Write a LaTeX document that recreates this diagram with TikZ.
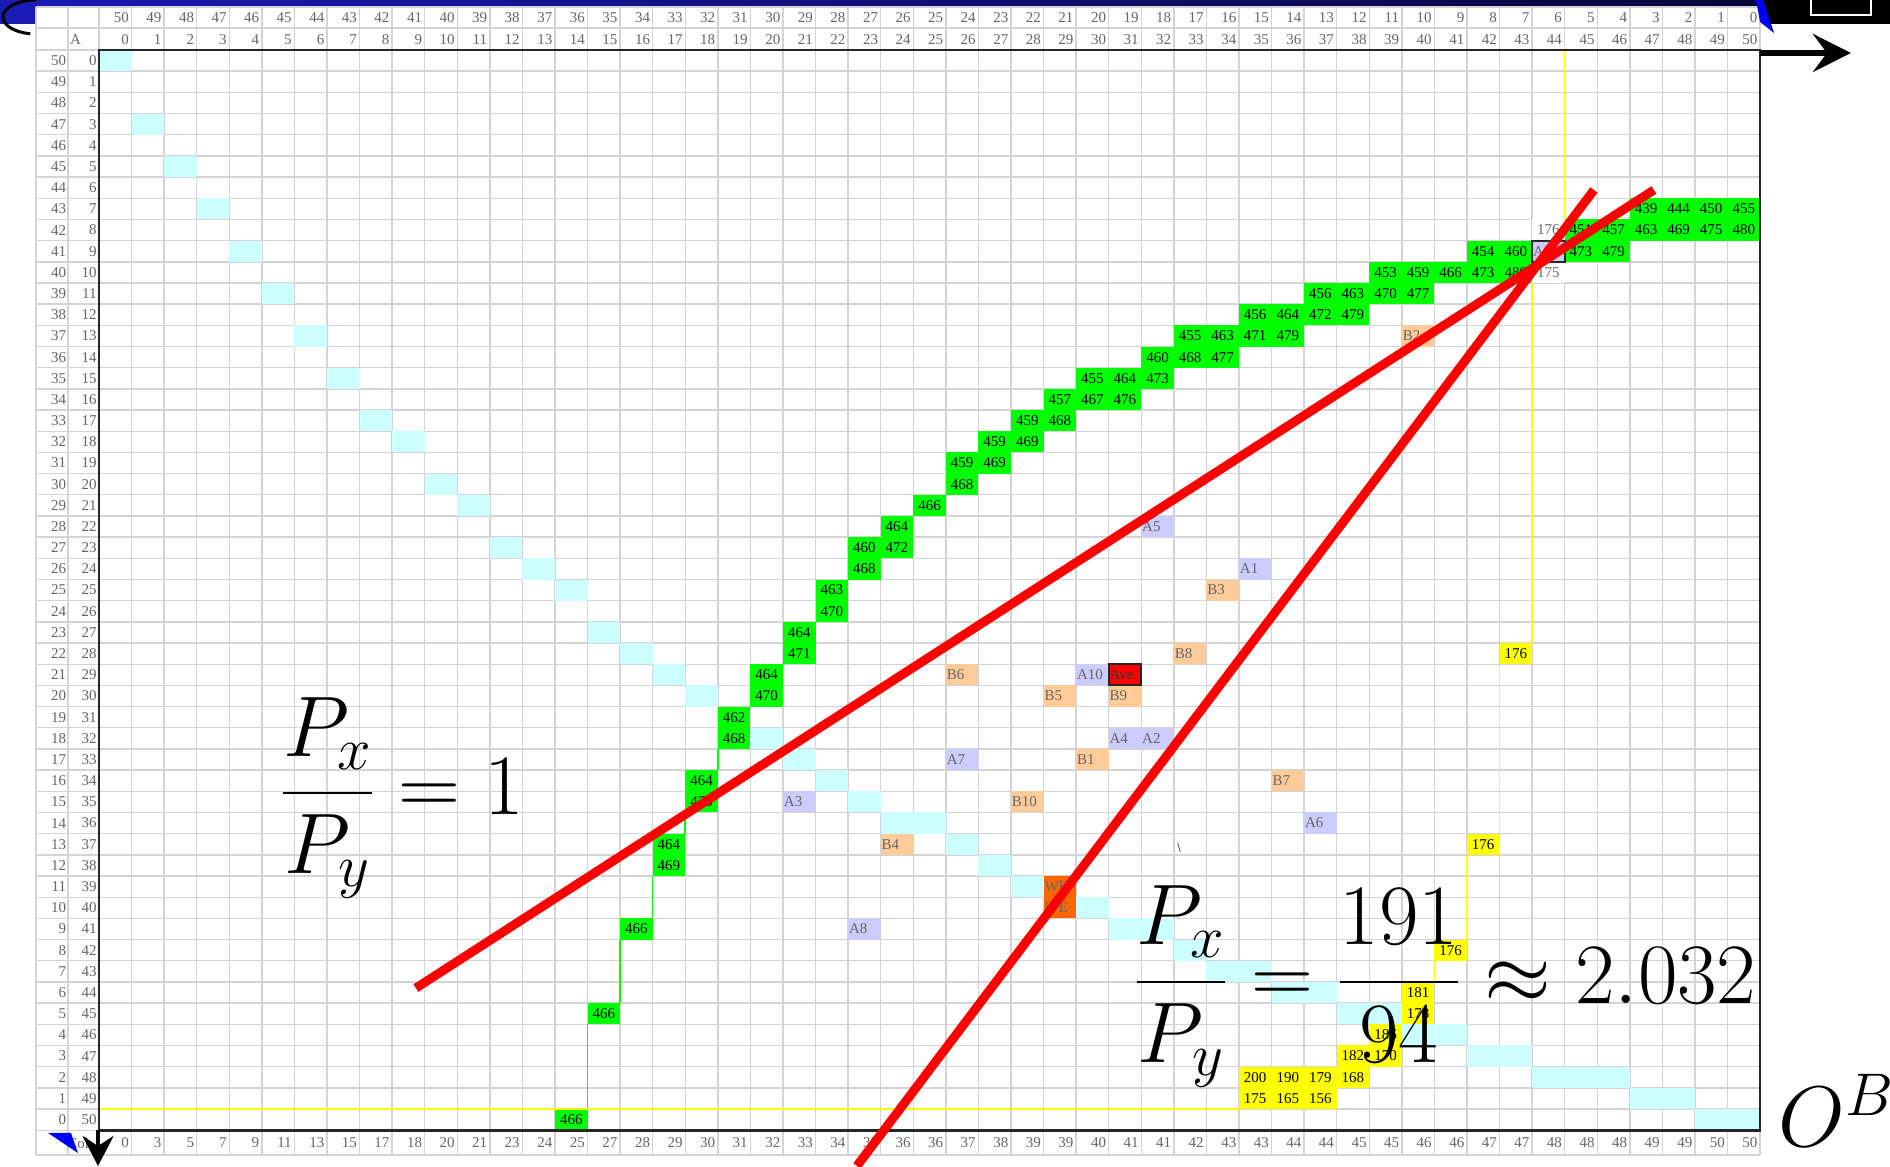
\RequirePackage{fix-cm}
\documentclass[tikz,border=0pt]{standalone}
\usepackage{amsmath}
\usepackage{fontspec}
\newfontfamily\cellfont{Liberation Serif}
\usetikzlibrary{arrows.meta}
\definecolor{cellcyan}{HTML}{CCFFFF}
\definecolor{cellgreen}{HTML}{00FF00}
\definecolor{celllav}{HTML}{CCCCFF}
\definecolor{cellpeach}{HTML}{FFCC99}
\definecolor{cellyellow}{HTML}{FFFF00}
\definecolor{cellorange}{HTML}{FF6600}
\definecolor{titleblue}{HTML}{1A1AB8}
\definecolor{titlenavy}{HTML}{06063A}
\tikzset{
  gridline/.style={draw=black!17, line width=0.7pt},
  frameline/.style={draw=black!85, line width=1.3pt},
  axislabel/.style={font=\cellfont\fontsize{7.5}{8}\selectfont, text=black!60, inner sep=0pt},
  numbox/.style={minimum width=16.285pt, minimum height=10.59pt, inner sep=0pt, outer sep=0pt, font=\cellfont\fontsize{7.5}{8}\selectfont},
  tagbox/.style={minimum height=10.59pt, text width=15.3pt, inner xsep=0.5pt, inner ysep=0pt, outer sep=0pt, align=left, font=\cellfont\fontsize{7.5}{8}\selectfont, text=black!60},
  stepline/.style={line width=0.8pt},
  priceline/.style={draw=red, line width=4.5pt},
  bignum/.style={inner sep=0pt, font=\fontsize{43}{52}\selectfont},
  axisarrow/.style={-{Stealth[length=19pt,width=19pt,inset=7pt]}, line width=3pt},
  downarrow/.style={-{Stealth[length=15pt,width=15.5pt,inset=5pt]}, line width=2pt}
}
\newcommand{\numcell}[4]{\node[numbox, fill=#3] (n-#1-#2) at (#1+0.5,#2+0.5) {#4};}
\newcommand{\tagcell}[4]{\node[tagbox, fill=#3] (t-#1-#2) at (#1+0.5,#2+0.5) {#4};}

\begin{document}
\begin{tikzpicture}[x=16.285pt, y=-10.59pt]
\useasboundingbox (-3.0396,-2.3607) rectangle (54.989,52.738);
% title strip behind the sheet
\shade[left color=titleblue, right color=titlenavy] (-3.0396,-2.3607) rectangle (51,-1.275);
\draw[line width=1.5pt] (-1.934,-2.36) arc[start angle=270, end angle=100, x radius=1.013, y radius=0.803];

% sheet and grid
\fill[white] (-1.934,-2.03) rectangle (51,52.17);
\foreach \c in {0,...,51} \draw[gridline] (\c,-2.03) -- (\c,52.17);
\foreach \x in {-1.934,-0.952} \draw[gridline] (\x,-2.03) -- (\x,52.17);
\foreach \r in {0,...,51} \draw[gridline] (-1.934,\r) -- (51,\r);
\foreach \y in {-2.03,-1.039,52.17} \draw[gridline] (-1.934,\y) -- (51,\y);

% contract curve and bottom row
\foreach \r [count=\i from 0] in {0,3,5,7,9,11,13,15,17,18,20,21,23,24,25,27,28,29,30,31,32,33,34,35,36,36,37,38,39,39,40,41,41,42,43,43,44,44,45,45,46,46,47,47,48,48,48,49,49,50,50} {
  \fill[cellcyan] (\i,\r) rectangle ++(1,1);
  \node[axislabel, anchor=east] (bot-\i) at (\i+0.93,51.6) {\r};
}

% offer curve of A
\foreach \c/\r/\v in {14/50/466,15/45/466,16/41/466,17/37/464,17/38/469,18/34/464,18/35/470,19/31/462,19/32/468,20/29/464,20/30/470,21/27/464,21/28/471,22/25/463,22/26/470,23/23/460,23/24/468,24/22/464,24/23/472,25/21/466,26/19/459,26/20/468,27/18/459,27/19/469,28/17/459,28/18/469,29/16/457,29/17/468,30/16/467,31/16/476,30/15/455,31/15/464,32/15/473,32/14/460,33/14/468,34/14/477,33/13/455,34/13/463,35/13/471,36/13/479,35/12/456,36/12/464,37/12/472,38/12/479,37/11/456,38/11/463,39/11/470,40/11/477,39/10/453,40/10/459,41/10/466,42/10/473,43/10/480,42/9/454,43/9/460,45/9/473,46/9/479,45/8/451,46/8/457,47/8/463,48/8/469,49/8/475,50/8/480,47/7/439,48/7/444,49/7/450,50/7/455}
  {\numcell{\c}{\r}{cellgreen}{\v}}
\draw[stepline, cellgreen] (n-14-50.north east) -- (n-15-45.south west);
\draw[stepline, cellgreen] (n-15-45.north east) -- (n-16-41.south west);
\draw[stepline, cellgreen] (n-16-41.north east) -- (n-17-38.south west);
\draw[stepline, cellgreen] (n-17-37.north east) -- (n-18-35.south west);
\draw[stepline, cellgreen] (n-18-34.north east) -- (n-19-32.south west);

% offer curve of B
\foreach \c/\r/\v in {35/48/200,36/48/190,37/48/179,38/48/168,35/49/175,36/49/165,37/49/156,38/47/182,39/47/170,39/46/186,40/44/181,40/45/178,41/42/176,42/37/176,43/28/176}
  {\numcell{\c}{\r}{cellyellow}{\v}}
\numcell{44}{8}{white}{\textcolor{black!60}{176}}
\numcell{44}{10}{white}{\textcolor{black!60}{175}}
\coordinate (yl-start) at (0,50);
\coordinate (yl-top) at (45,0);
\draw[stepline, cellyellow] (yl-start) -- (n-35-49.south west);
\draw[stepline, cellyellow] (n-40-44.north east) -- (n-41-42.south west);
\draw[stepline, cellyellow] (n-41-42.north east) -- (n-42-37.south west);
\draw[stepline, cellyellow] (n-42-37.north east) -- (n-43-28.south west);
\draw[stepline, cellyellow] (n-43-28.north east) -- (n-44-10.south west);
\draw[stepline, cellyellow] (n-44-8.north east) -- (yl-top);

% endowments
\foreach \c/\r/\v in {35/24/A1,32/32/A2,21/35/A3,31/32/A4,32/22/A5,37/36/A6,26/33/A7,23/41/A8,30/29/A10}
  {\tagcell{\c}{\r}{celllav}{\v}}
\foreach \c/\r/\v in {30/33/B1,40/13/B2,34/25/B3,24/37/B4,29/30/B5,26/29/B6,36/34/B7,33/28/B8,31/30/B9,28/35/B10}
  {\tagcell{\c}{\r}{cellpeach}{\v}}
\tagcell{44}{9}{celllav}{A9}
\draw[black!85, line width=1pt] (t-44-9.north west) rectangle (t-44-9.south east);
\tagcell{31}{29}{red}{\textcolor{black!80}{Ave.}}
\draw[black!85, line width=1pt] (t-31-29.north west) rectangle (t-31-29.south east);
\tagcell{29}{39}{cellorange}{WE}
\tagcell{29}{40}{cellorange}{WE}
\draw[black!60, line width=0.5pt] (33.12,37.45) -- (33.2,37.85);

\draw[frameline] (0,0) rectangle (51,51);

% axis labels
\foreach \c in {0,...,50} {
  \pgfmathtruncatemacro{\cb}{50-\c}
  \node[axislabel, anchor=east] (hb-\c) at (\c+0.93,-1.53) {\cb};
  \node[axislabel, anchor=east] (ha-\c) at (\c+0.93,-0.5) {\c};
  \node[axislabel, anchor=east] (vb-\c) at (-1.0,\c+0.5) {\cb};
  \node[axislabel, anchor=east] (va-\c) at (-0.06,\c+0.5) {\c};
}
\node[axislabel, anchor=west] (a-lab) at (-0.9,-0.5) {A};
\node[axislabel, anchor=west] (col-lab) at (-0.98,51.6) {Col};

% price lines
\coordinate (p1-lo) at (9.73,44.29);
\coordinate (p1-hi) at (47.74,6.61);
\coordinate (p2-hi) at (45.90,6.61);
\coordinate (p2-lo) at (23.27,52.69);
\draw[priceline] (p1-lo) -- (p1-hi);
\draw[priceline] (p2-hi) -- (p2-lo);

\node[bignum, anchor=base east] (ratio-one) at (13.05,36.10) {$\dfrac{P_x}{P_y} = 1$};
\node[bignum, anchor=base east] (ratio-we) at (50.90,45.0) {$\dfrac{P_x}{P_y} = \dfrac{191}{94} \approx 2.032$};
\node[bignum, anchor=base west] (ob) at (51.55,51.79) {$O^B$};

% axes of A
\coordinate (oa-east) at (51,0.14);
\coordinate (x-tip) at (53.79,0.14);
\coordinate (oa-south) at (-0.03,51);
\coordinate (y-tip) at (-0.03,52.69);
\draw[axisarrow] (oa-east) -- (x-tip);
\draw[downarrow] (oa-south) -- (y-tip);

% window corner
\fill[black] (51.06,-2.3607) rectangle (54.989,-1.227);
\draw[white, line width=1pt] (52.56,-2.6) rectangle (54.40,-1.653);
\fill[blue] (50.875,-2.3607) -- (51.09,-2.3607) -- (51.43,-0.8026) -- (51.0,-1.322) -- cycle;
\fill[blue] (-1.566,51.13) -- (-0.86,51.13) -- (-0.645,52.08) -- cycle;
\end{tikzpicture}
\end{document}
